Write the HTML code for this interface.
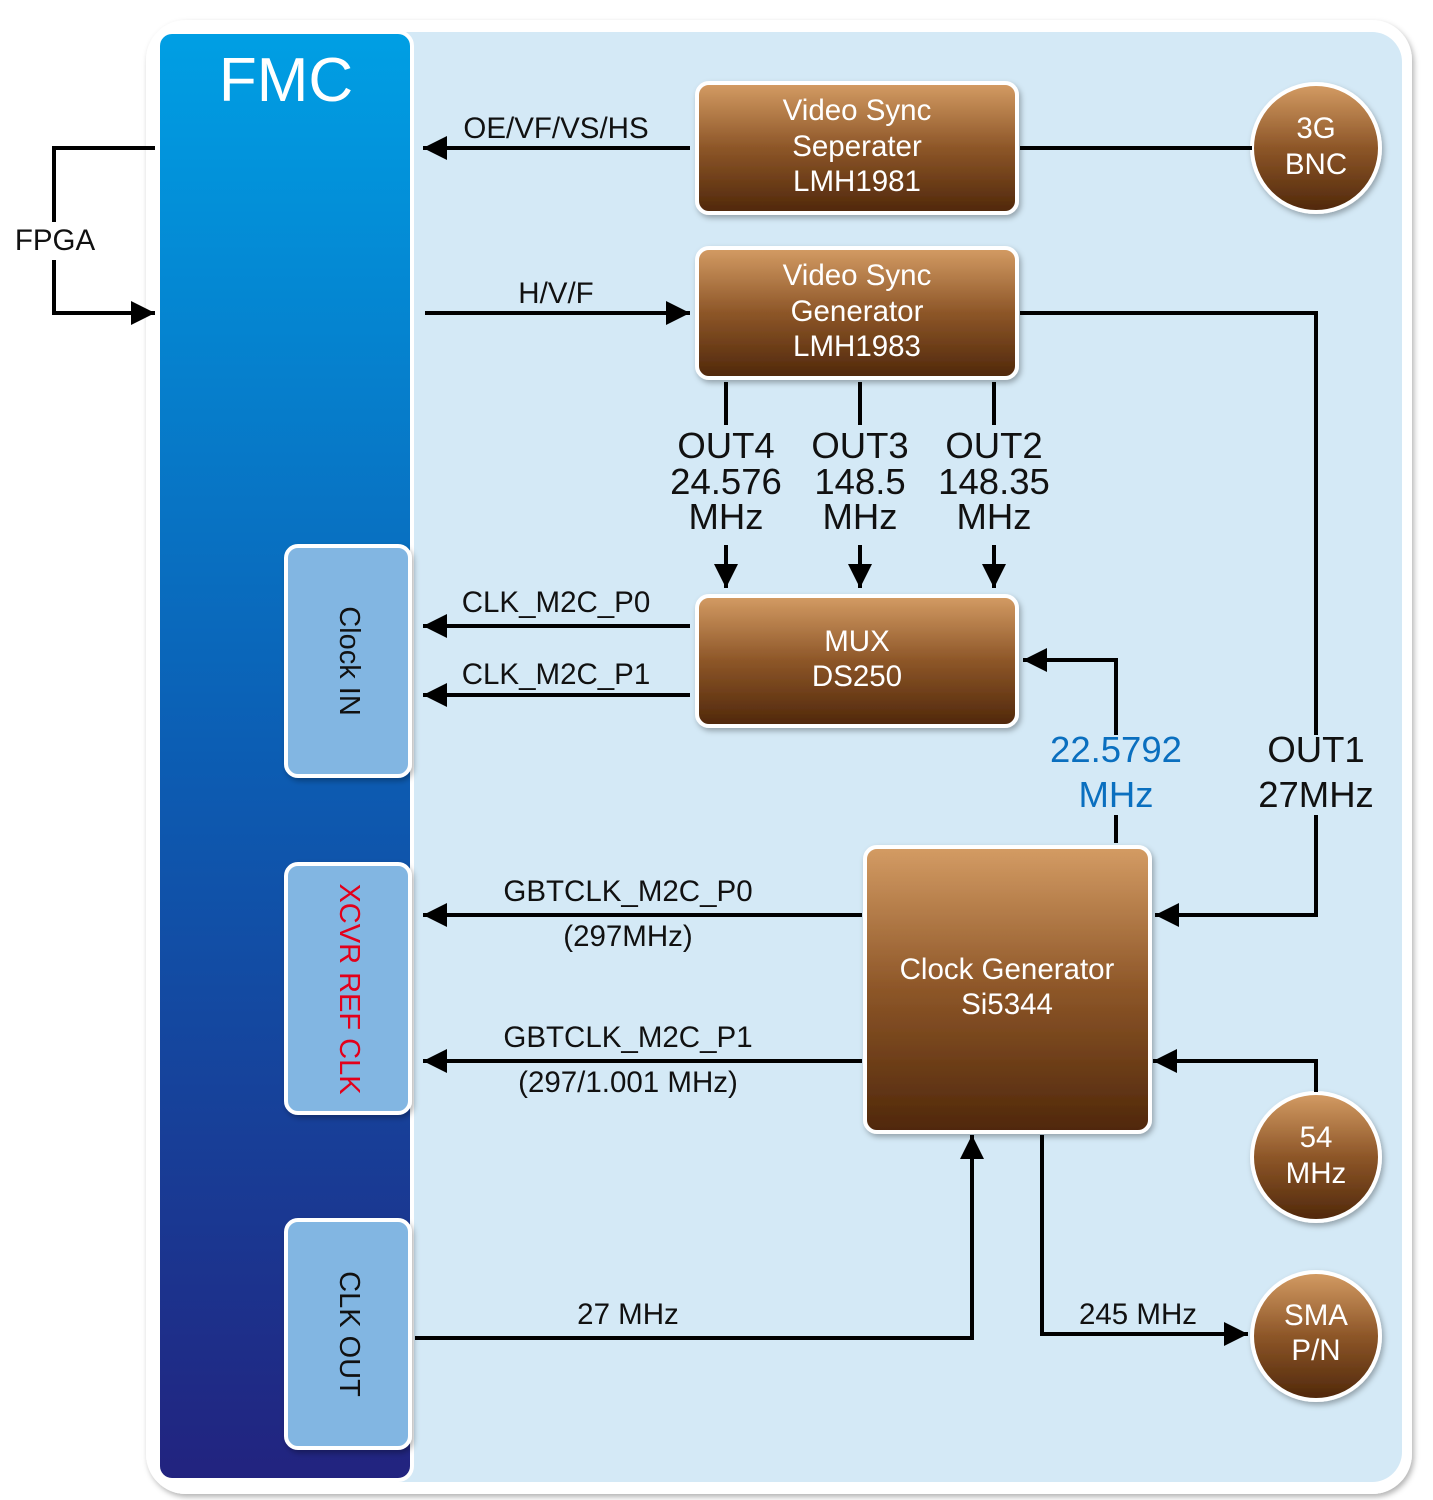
<!DOCTYPE html>
<html><head><style>body{margin:0;background:#fff}svg{display:block}</style></head><body>
<svg width="1433" height="1500" viewBox="0 0 1433 1500" xmlns="http://www.w3.org/2000/svg" font-family="Liberation Sans, sans-serif">
<defs>
<linearGradient id="br" x1="0" y1="0" x2="0" y2="1"><stop offset="0" stop-color="#d49c64"/><stop offset="0.5" stop-color="#8d5628"/><stop offset="1" stop-color="#4f270a"/></linearGradient>
<linearGradient id="fm" x1="0" y1="0" x2="0" y2="1"><stop offset="0" stop-color="#009fe4"/><stop offset="0.5" stop-color="#0c5db3"/><stop offset="1" stop-color="#22237f"/></linearGradient>
<marker id="a" markerWidth="6" markerHeight="6" refX="6" refY="3" orient="auto" markerUnits="strokeWidth"><path d="M0,0 L6,3 L0,6 z" fill="#000"/></marker>
<filter id="sh" x="-10%" y="-10%" width="120%" height="120%"><feDropShadow dx="2" dy="3" stdDeviation="3" flood-opacity="0.3"/></filter>
</defs>
<rect x="146" y="20" width="1266" height="1474" rx="40" fill="#fff" filter="url(#sh)"/>
<rect x="158" y="32" width="1244" height="1450" rx="30" fill="#d4e9f6"/>
<rect x="158" y="32" width="254" height="1448" rx="14" fill="url(#fm)" stroke="#fff" stroke-width="4"/>
<text x="286" y="101" font-size="62" fill="#fff" text-anchor="middle">FMC</text>
<g fill="#82b6e2" stroke="#fff" stroke-width="4" filter="url(#sh)">
<rect x="286" y="546" width="124" height="230" rx="12"/>
<rect x="286" y="864" width="124" height="249" rx="12"/>
<rect x="286" y="1220" width="124" height="228" rx="12"/>
</g>
<g font-size="29" text-anchor="middle">
<text transform="translate(340,661) rotate(90)" fill="#111">Clock IN</text>
<text transform="translate(340,989) rotate(90)" fill="#e3001b">XCVR REF CLK</text>
<text transform="translate(340,1334) rotate(90)" fill="#111">CLK OUT</text>
</g>
<g fill="url(#br)" stroke="#fff" stroke-width="4" filter="url(#sh)">
<rect x="697" y="83" width="320" height="130" rx="12"/>
<rect x="697" y="248" width="320" height="130" rx="12"/>
<rect x="697" y="596" width="320" height="130" rx="12"/>
<rect x="865" y="847" width="285" height="285" rx="12"/>
<circle cx="1316" cy="148" r="64"/>
<circle cx="1316" cy="1157" r="64"/>
<circle cx="1316" cy="1336" r="64"/>
</g>
<g fill="#fff" font-size="29.5" text-anchor="middle">
<text x="857" y="120">Video Sync</text><text x="857" y="156">Seperater</text><text x="857" y="191">LMH1981</text>
<text x="857" y="285">Video Sync</text><text x="857" y="321">Generator</text><text x="857" y="356">LMH1983</text>
<text x="857" y="651">MUX</text><text x="857" y="686">DS250</text>
<text x="1007" y="979">Clock Generator</text><text x="1007" y="1014">Si5344</text>
<text x="1316" y="138">3G</text><text x="1316" y="174">BNC</text>
<text x="1316" y="1147">54</text><text x="1316" y="1183">MHz</text>
<text x="1316" y="1325">SMA</text><text x="1316" y="1360">P/N</text>
</g>
<g stroke="#000" stroke-width="4" fill="none">
<path d="M155,148 H54 V222"/>
<path d="M54,260 V313 H155" marker-end="url(#a)"/>
<path d="M690,148 H423" marker-end="url(#a)"/>
<path d="M425,313 H690" marker-end="url(#a)"/>
<path d="M1020,148 H1252"/>
<path d="M1020,313 H1316 V735"/>
<path d="M1316,815 V915 H1155" marker-end="url(#a)"/>
<path d="M726,382 V425 M860,382 V425 M994,382 V425"/>
<path d="M726,545 V588" marker-end="url(#a)"/>
<path d="M860,545 V588" marker-end="url(#a)"/>
<path d="M994,545 V588" marker-end="url(#a)"/>
<path d="M690,626 H423" marker-end="url(#a)"/>
<path d="M690,695 H423" marker-end="url(#a)"/>
<path d="M1116,843 V815"/>
<path d="M1116,735 V660 H1023" marker-end="url(#a)"/>
<path d="M862,915 H423" marker-end="url(#a)"/>
<path d="M862,1061 H423" marker-end="url(#a)"/>
<path d="M1316,1092 V1061 H1153" marker-end="url(#a)"/>
<path d="M415,1338 H972 V1135" marker-end="url(#a)"/>
<path d="M1042,1135 V1334 H1248" marker-end="url(#a)"/>
</g>
<g font-size="29.5" fill="#111" text-anchor="middle">
<text x="55" y="250">FPGA</text>
<text x="556" y="138">OE/VF/VS/HS</text>
<text x="556" y="303">H/V/F</text>
<text x="556" y="612">CLK_M2C_P0</text>
<text x="556" y="684">CLK_M2C_P1</text>
<text x="628" y="901">GBTCLK_M2C_P0</text>
<text x="628" y="946">(297MHz)</text>
<text x="628" y="1047">GBTCLK_M2C_P1</text>
<text x="628" y="1092">(297/1.001 MHz)</text>
<text x="628" y="1324">27 MHz</text>
<text x="1138" y="1324">245 MHz</text>
</g>
<g font-size="36.5" fill="#111" text-anchor="middle">
<text x="726" y="458">OUT4</text><text x="726" y="494">24.576</text><text x="726" y="529">MHz</text>
<text x="860" y="458">OUT3</text><text x="860" y="494">148.5</text><text x="860" y="529">MHz</text>
<text x="994" y="458">OUT2</text><text x="994" y="494">148.35</text><text x="994" y="529">MHz</text>
<text x="1316" y="762">OUT1</text><text x="1316" y="807">27MHz</text>
<text x="1116" y="762" fill="#0a6fbf">22.5792</text><text x="1116" y="807" fill="#0a6fbf">MHz</text>
</g>
</svg>
</body></html>
